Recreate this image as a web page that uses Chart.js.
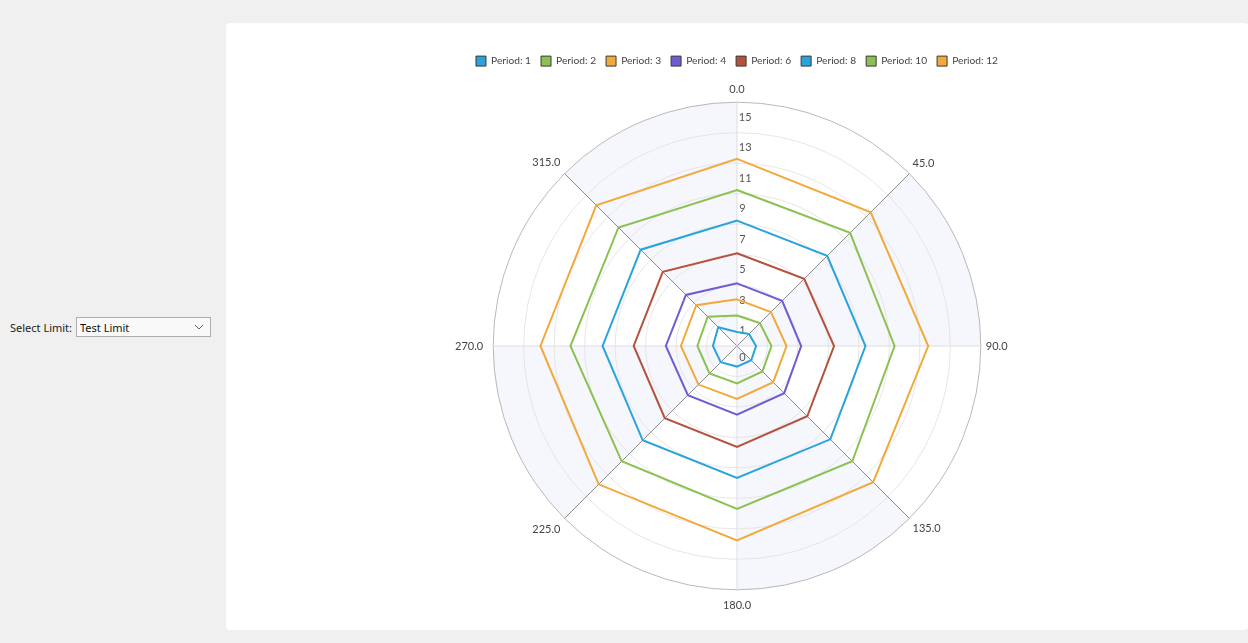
<!DOCTYPE html>
<html>
<head>
<meta charset="utf-8">
<script src="https://cdn.jsdelivr.net/npm/chart.js@4/dist/chart.umd.min.js"></script>
<style>
  body { margin: 0; background: #f0f0f0; font-family: "Noto Sans", sans-serif; width: 1248px; height: 643px; overflow: hidden; }
  #left { position: absolute; left: 10px; top: 317px; font-size: 11px; color: #222; }
  #left label { position: absolute; left: 0; top: 3px; white-space: nowrap; }
  #limit { position: absolute; left: 66px; top: 0; width: 135px; height: 20px; font-size: 11px; font-family: "Noto Sans", sans-serif;
    border: 1px solid #adadad; background: #f9f9f9; color: #111; padding: 0 0 0 3px; appearance: none; -webkit-appearance: none;
    background-image: url("data:image/svg+xml;utf8,<svg xmlns='http://www.w3.org/2000/svg' width='10' height='6'><path d='M1 1 L5 5 L9 1' fill='none' stroke='%23666' stroke-width='1'/></svg>");
    background-repeat: no-repeat; background-position: right 6px center; }
  #panel { position: absolute; left: 226px; top: 23px; width: 1022px; height: 607px; background: #fff; border-radius: 4px; }
</style>
</head>
<body>
<div id="left">
  <label for="limit">Select Limit:</label>
  <select id="limit"><option>Test Limit</option></select>
</div>
<div id="panel">
  <canvas id="polarChart" width="1022" height="607"></canvas>
</div>
<script>
// direction labels round the dial
const angleLabels = ['0.0', '45.0', '90.0', '135.0', '180.0', '225.0', '270.0', '315.0'];

// one ring per period, values read per direction
const period1 = [0.92, 1.12, 1.25, 1.32, 1.35, 1.51, 1.58, 1.74];
const period2 = [2.0, 2.12, 2.26, 2.36, 2.45, 2.55, 2.6, 2.72];
const period3 = [3.06, 3.15, 3.25, 3.36, 3.47, 3.58, 3.68, 3.78];
const period4 = [4.11, 4.19, 4.21, 4.38, 4.51, 4.56, 4.67, 4.74];
const period6 = [6.09, 6.24, 6.37, 6.52, 6.62, 6.70, 6.78, 6.89];
const period8 = [8.23, 8.37, 8.43, 8.66, 8.66, 8.75, 8.82, 8.94];
const period10 = [10.24, 10.5, 10.34, 10.7, 10.7, 10.7, 10.93, 11.0];
const period12 = [12.28, 12.41, 12.55, 12.64, 12.76, 12.84, 12.9, 13.06];

const periodNames = ['Period: 1', 'Period: 2', 'Period: 3', 'Period: 4', 'Period: 6', 'Period: 8', 'Period: 10', 'Period: 12'];
const periodColors = ['#2aa3dc', '#8cc152', '#f2a93b', '#6e5cd3', '#b5513c', '#2aa3dc', '#8cc152', '#f2a93b'];

// radial axis
const scaleMax = 16;
const labelTicks = [1, 3, 5, 7, 9, 11, 13, 15];
const ringTicks = [2, 4, 6, 8, 10, 12, 14, 16];
const shadedSectors = [false, true, false, true, false, true, false, true];

const uiFont = 'Lato';

function padLabel(v){
    let s = String(v);
    return (s.length > 1 ? '\u2002\u2002\u2002' : '\u2002\u2002') + s;
}

// alternate sectors get a faint tint, under the grid
const sectorShading = {
    id: 'sectorShading',
    beforeDraw(chart){
        let r = chart.scales.r;
        let c = chart.ctx;
        let step = Math.PI * 2 / angleLabels.length;
        let radius = r.getDistanceFromCenterForValue(scaleMax);
        c.save();
        c.fillStyle = '#f6f6fd';
        shadedSectors.forEach((on, i) => {
            if(!on) return;
            let a0 = r.getIndexAngle(i) - Math.PI / 2;
            c.beginPath();
            c.moveTo(r.xCenter, r.yCenter);
            c.arc(r.xCenter, r.yCenter, radius, a0, a0 + step);
            c.closePath();
            c.fill();
        });
        c.restore();
    }
};

let seriesData = [period1, period2, period3, period4, period6, period8, period10, period12];

let datasets = seriesData.map((values, i) => ({
    label: periodNames[i],
    data: values,
    borderColor: periodColors[i],
    backgroundColor: periodColors[i],
    borderWidth: 2,
    pointRadius: 0,
    fill: false,
    tension: 0
}));

let ctx = document.getElementById('polarChart').getContext('2d');

let polarChart = new Chart(ctx, {
    type: 'radar',
    data: {
        labels: angleLabels,
        datasets: datasets
    },
    plugins: [sectorShading],
    options: {
        responsive: false,
        animation: false,
        events: [],
        layout: { padding: { top: 23, bottom: 16 } },
        plugins: {
            tooltip: { enabled: false },
            // empty spacer between legend and dial
            subtitle: { display: true, text: '', weight: 500, padding: 0, font: { size: 5, lineHeight: 1.2 } },
            legend: {
                position: 'top',
                labels: {
                    boxWidth: 10,
                    boxHeight: 10,
                    padding: 10,
                    color: '#444',
                    font: { family: uiFont, size: 10.2 },
                    generateLabels: chart => {
                        let items = Chart.defaults.plugins.legend.labels.generateLabels(chart);
                        items.forEach(it => { it.strokeStyle = '#3a3a3a'; it.lineWidth = 1; });
                        return items;
                    }
                }
            }
        },
        scales: {
            r: {
                min: 0,
                max: scaleMax,
                startAngle: 0,
                angleLines: {
                    display: true,
                    color: c => c.index % 2 === 1 ? '#8a8a8a' : '#dedede',
                    lineWidth: 1
                },
                grid: {
                    circular: true,
                    color: c => c.tick.value === scaleMax ? '#b8b8b8' : (ringTicks.includes(c.tick.value) ? '#e6e6e6' : 'rgba(0,0,0,0)'),
                    lineWidth: 1
                },
                pointLabels: {
                    display: true,
                    color: '#444',
                    padding: c => [-1.5, -3, -2.5, -3, 1.5, -1.5, 2.5, -1.5][c.index],
                    font: { family: uiFont, size: 11 }
                },
                ticks: {
                    display: true,
                    stepSize: 1,
                    autoSkip: false,
                    maxTicksLimit: 20,
                    showLabelBackdrop: false,
                    color: '#555',
                    font: { family: uiFont, size: 11 },
                    callback: function(value){
                        let v = Math.round(Number(value));
                        if(v === 1) return [padLabel(1), '', padLabel(0)];
                        if(labelTicks.includes(v)) return padLabel(v);
                        return '';
                    }
                }
            }
        }
    }
});
</script>
</body>
</html>
